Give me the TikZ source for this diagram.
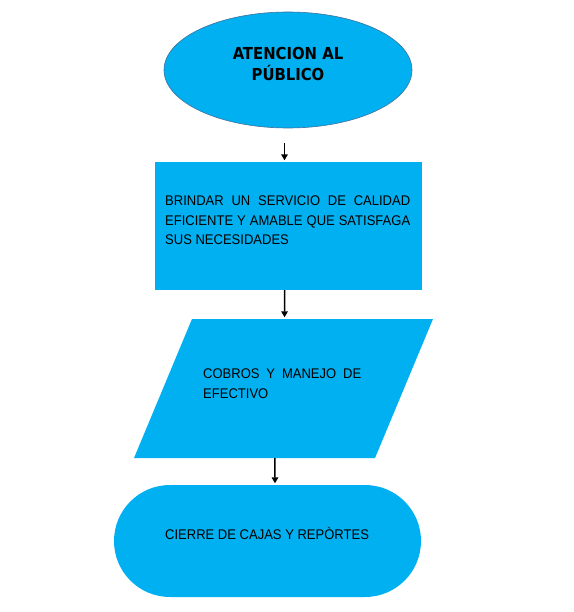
\documentclass[tikz,border=0pt]{standalone}
\usepackage{fontspec}
\setmainfont{Liberation Sans}[FakeStretch=0.93]
\newfontfamily\titulofont{DejaVu Sans Condensed}
\usetikzlibrary{shapes.geometric,shapes.misc,arrows.meta}
\definecolor{celeste}{RGB}{0,176,240}
\definecolor{borde}{RGB}{65,113,156}
\tikzset{
  forma/.style={fill=celeste,inner sep=0pt},
  titulo/.style={font=\titulofont\bfseries\fontsize{16.5}{21}\selectfont,inner sep=0pt,align=center},
  texto/.style={font=\fontsize{14}{19.5}\selectfont,inner sep=0pt,align=justify},
  flecha/.style={-{Triangle[length=6pt,width=6.5pt]},line width=1.5pt,shorten >=1.5pt}
}
\begin{document}
\begin{tikzpicture}[x=1pt,y=-1pt]
          \useasboundingbox (0,0) rectangle (573,612);
          % formas
          \node[forma,ellipse,draw=borde,line width=0.6pt,minimum width=248pt,minimum height=116pt] (atencion) at (288,70) {};
          \node[forma,rectangle,minimum width=267pt,minimum height=128pt] (servicio) at (288.5,226) {};
          \node[forma,rectangle,minimum width=241pt,minimum height=139pt,xslant=0.417,transform shape] (cobros) at (283.5,388.5) {};
          \node[forma,rounded rectangle,minimum width=307pt,minimum height=112pt] (cierre) at (267.5,541) {};

          % textos
          \node[titulo] (atencion-txt) at (288,64) {ATENCION AL\\PÚBLICO};
          \node[texto,text width=245pt,anchor=north west] (servicio-txt) at (165,196) {BRINDAR UN SERVICIO DE CALIDAD\linebreak EFICIENTE Y AMABLE QUE SATISFAGA\linebreak SUS NECESIDADES};
          \node[texto,text width=158pt,anchor=north west] (cobros-txt) at (203,369) {COBROS Y MANEJO DE\linebreak EFECTIVO};
          \node[texto,anchor=base west] (cierre-txt) at (165,539) {CIERRE DE CAJAS Y REPÒRTES};

          % flechas
          \coordinate (inicio) at (284.5,143);
          \draw[flecha] (inicio) -- (inicio |- servicio.north);
          \draw[flecha] ([xshift=-4pt]servicio.south) -- ([xshift=-28pt]cobros.north);
          \draw[flecha] ([xshift=20.5pt]cobros.south) -- ([xshift=7.5pt]cierre.north);
        \end{tikzpicture}
\end{document}
